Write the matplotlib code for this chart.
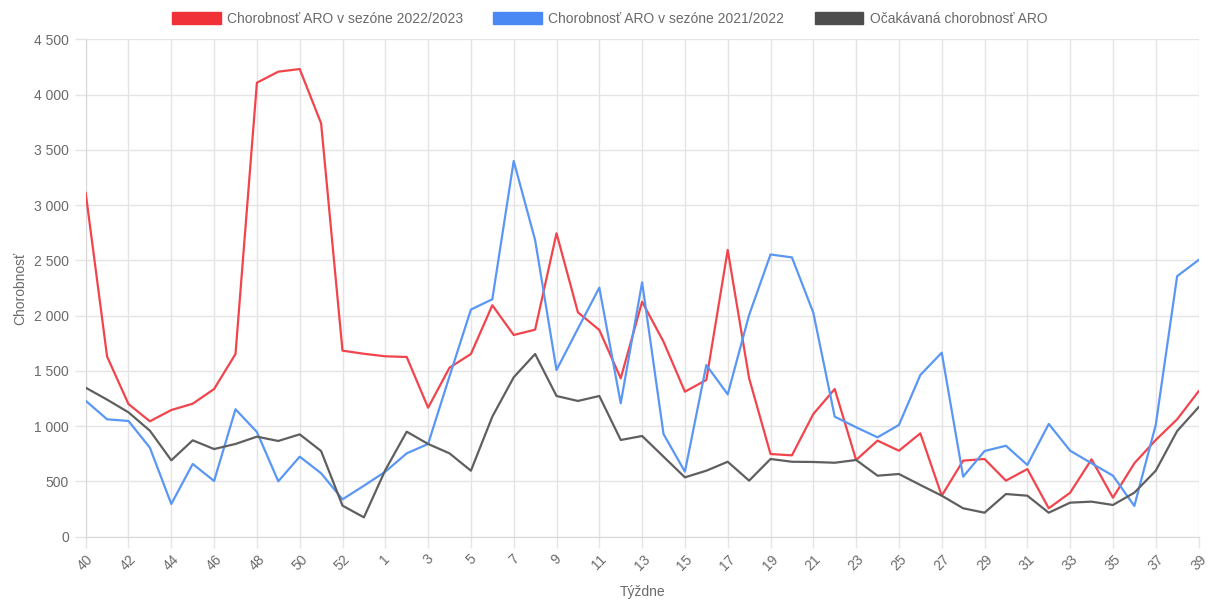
import numpy as np
import matplotlib.pyplot as plt
from matplotlib.patches import Patch
from matplotlib.ticker import FuncFormatter, MultipleLocator

plt.rcParams['font.family'] = ['Liberation Sans', 'DejaVu Sans']

# týždne sezóny (40..53, 1..39)
weeks = [str(w) for w in list(range(40, 54)) + list(range(1, 40))]

# chorobnosť v sezóne 2022/2023
season_2223 = [3110, 1630, 1200, 1044, 1146, 1203, 1336, 1653, 4107, 4207,
               4231, 3740, 1683, 1655, 1632, 1626, 1167, 1529, 1653, 2094,
               1825, 1873, 2745, 2030, 1870, 1433, 2126, 1764, 1312, 1418,
               2594, 1433, 748, 736, 1110, 1336, 694, 869, 778, 935,
               371, 688, 703, 507, 612, 257, 398, 700, 353, 664,
               875, 1062, 1315]

# chorobnosť v sezóne 2021/2022
season_2122 = [1230, 1062, 1047, 805, 296, 658, 504, 1153, 947, 501,
               724, 574, 338, 461, 588, 754, 839, 1451, 2055, 2148,
               3399, 2684, 1508, 1882, 2253, 1207, 2301, 929, 588, 1553,
               1288, 2006, 2553, 2527, 2026, 1086, 990, 899, 1011, 1463,
               1665, 543, 775, 823, 649, 1020, 778, 664, 552, 278,
               1011, 2357, 2503]

# očakávaná chorobnosť
expected = [1348, 1240, 1125, 959, 691, 872, 793, 839, 905, 866,
            926, 775, 281, 175, 603, 950, 839, 754, 597, 1086,
            1442, 1653, 1273, 1228, 1273, 875, 911, 724, 537, 597,
            678, 507, 703, 678, 676, 669, 694, 552, 567, 468,
            371, 257, 217, 386, 371, 217, 308, 317, 287, 398,
            597, 956, 1171]

c_red = '#f1444c'
c_blue = '#5a97f4'
c_gray = '#5f5f5f'
grid_c = '#e4e4e4'
txt_c = '#6a6a6a'

fig = plt.figure(figsize=(12.12, 6.01), dpi=100)
ax = fig.add_axes([0.0707, 0.107, 0.9182, 0.8276])

x = np.arange(len(weeks))
ax.plot(x, season_2223, color=c_red, lw=1.6, zorder=3)
ax.plot(x, season_2122, color=c_blue, lw=1.6, zorder=3)
ax.plot(x, expected, color=c_gray, lw=1.6, zorder=3)

ax.set_xlim(0, len(weeks) - 1)
ax.set_ylim(0, 4500)
ax.yaxis.set_major_locator(MultipleLocator(500))
ax.yaxis.set_major_formatter(FuncFormatter(lambda v, p: f'{int(v):,}'.replace(',', ' ')))

ax.set_xticks(x[::2])
ax.set_xticklabels(weeks[::2], rotation=45, ha='center', va='top')

ax.grid(True, color=grid_c, lw=1)
ax.set_axisbelow(True)
for s in ['top', 'right']:
    ax.spines[s].set_visible(False)
for s in ['left', 'bottom']:
    ax.spines[s].set_color('#d8d8d8')
ax.tick_params(axis='both', colors=grid_c, length=8, width=1, labelcolor=txt_c, labelsize=10)
ax.tick_params(axis='y', pad=4)
ax.tick_params(axis='x', pad=3)

ax.set_xlabel('Týždne', color=txt_c, fontsize=10, labelpad=9)
ax.set_ylabel('Chorobnosť', color=txt_c, fontsize=10, labelpad=5)

handles = [Patch(facecolor='#f03238', edgecolor='#f03238'),
           Patch(facecolor='#4a89f3', edgecolor='#4a89f3'),
           Patch(facecolor='#4d4d4d', edgecolor='#4d4d4d')]
labels = ['Chorobnosť ARO v sezóne 2022/2023',
          'Chorobnosť ARO v sezóne 2021/2022',
          'Očakávaná chorobnosť ARO']
fig.legend(handles, labels, loc='center', bbox_to_anchor=(0.503, 0.968), ncol=3,
           frameon=False, fontsize=10, handlelength=3.5, handleheight=0.95,
           handletextpad=0.45, columnspacing=2.2, labelcolor=txt_c)

fig.savefig('out.png', dpi=100)
